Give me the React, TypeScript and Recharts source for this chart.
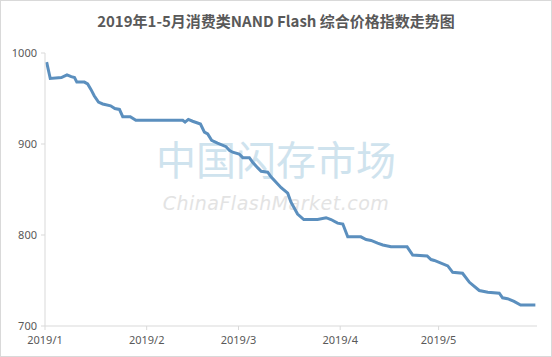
import React from "react";
import { LineChart, Line, XAxis, YAxis } from "recharts";

// day offset from 2019-01-01
const days = [
  0.5, 1.6, 5, 6.7, 8, 9, 9.7, 12, 13, 14, 15, 16.3, 17.6, 20, 21.3, 22.7, 23.7, 26, 27.7, 38,
  42, 42.7, 43.7, 45, 47.4, 48.6, 49.6, 50.8, 52.6, 55.2, 56.2, 57.2, 59.2, 60.3, 62.3, 63.3,
  64.8, 65.9, 67.9, 68.9, 72, 74, 75, 77, 78.9, 83.1, 85.7, 87.2, 89.2, 90.8, 92.3, 96.3, 97.9,
  99.4, 101.4, 103, 105.5, 110.4, 112.1, 116.5, 117.7, 118.7, 122.8, 124.3, 127.3, 129.4, 132.4,
  135, 138.5, 139.5, 141, 143, 145, 149.5,
];
const values = [
  990, 972, 973, 976, 974, 973, 968, 968, 966, 960, 953, 946, 944, 942, 939, 938, 930, 930, 926, 926,
  926, 924, 927, 925, 922, 913, 911, 904, 901, 897, 893, 891, 889, 885, 885, 880,
  874, 870, 869, 864, 852, 846, 836, 823, 817, 817, 819, 817, 813, 812, 798, 798, 795,
  794, 791, 789, 787, 787, 778, 777, 773, 772, 766, 759, 758, 748, 739,
  737, 736, 731, 730, 727, 723, 723,
];
const monthTicks = [0, 31, 59, 90, 120];
const monthLabels = ["2019/1", "2019/2", "2019/3", "2019/4", "2019/5"];
const valueTicks = [700, 800, 900, 1000];

const data = days.map((d, i) => ({ day: d, value: values[i] }));

const tickStyle = { fontSize: 11, fill: "#595959", fontFamily: "Noto Sans, sans-serif" };

export default function App() {
  return (
    <div
      style={{
        position: "absolute",
        left: 0,
        top: 0,
        width: 552,
        height: 357,
        background: "#fff",
        border: "1px solid #d9d9d9",
        boxSizing: "border-box",
        overflow: "hidden",
      }}
    >
      <div
        style={{
          position: "absolute",
          top: 9,
          width: "100%",
          textAlign: "center",
          fontFamily: "'Noto Sans CJK SC', sans-serif",
          fontWeight: 700,
          fontSize: 15,
          color: "#595959",
        }}
      >
        2019年1-5月消费类NAND Flash 综合价格指数走势图
      </div>
      <div
        style={{
          position: "absolute",
          top: 134,
          width: "100%",
          textAlign: "center",
          fontFamily: "'Noto Sans CJK SC', sans-serif",
          fontSize: 40,
          lineHeight: "46px",
          color: "#cfe3ee",
        }}
      >
        中国闪存市场
      </div>
      <div
        style={{
          position: "absolute",
          top: 190,
          width: "100%",
          textAlign: "center",
          fontFamily: "'DejaVu Sans', sans-serif",
          fontStyle: "italic",
          fontSize: 19,
          lineHeight: "24px",
          letterSpacing: 0.5,
          color: "#e3e3e3",
        }}
      >
        ChinaFlashMarket.com
      </div>
      <div style={{ position: "absolute", left: 0, top: 0 }}>
        <LineChart width={552} height={357} data={data} margin={{ top: 52, right: 16, bottom: 8, left: 0 }}>
          <XAxis
            dataKey="day"
            type="number"
            domain={[0, 150]}
            ticks={monthTicks}
            tickFormatter={(v: number) => monthLabels[monthTicks.indexOf(v)]}
            stroke="#d9d9d9"
            tickSize={4}
            tickMargin={6}
            height={24}
            tick={tickStyle}
          />
          <YAxis
            domain={[700, 1000]}
            ticks={valueTicks}
            stroke="#d9d9d9"
            tickSize={4}
            tickMargin={4}
            width={44}
            tick={tickStyle}
          />
          <Line
            type="linear"
            dataKey="value"
            stroke="#5b8fbe"
            strokeWidth={3}
            dot={false}
            isAnimationActive={false}
          />
        </LineChart>
      </div>
    </div>
  );
}
